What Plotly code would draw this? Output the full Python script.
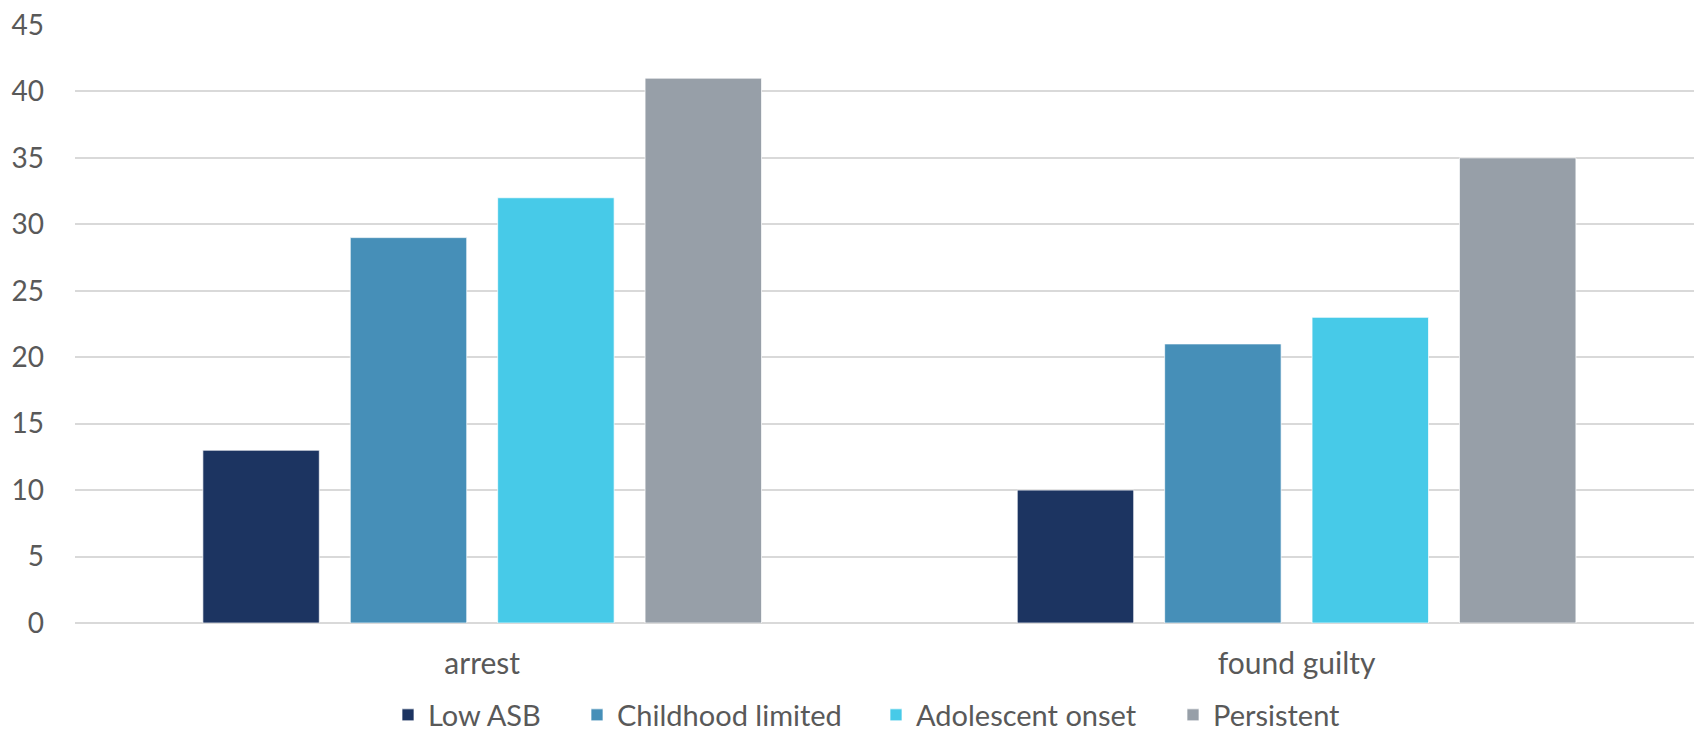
import plotly.graph_objects as go

categories = ["arrest", "found guilty"]
series_names = ["Low ASB", "Childhood limited", "Adolescent onset", "Persistent"]
low_asb = [13, 10]
childhood_limited = [29, 21]
adolescent_onset = [32, 23]
persistent = [41, 35]
colors = ["#1c3461", "#468fb8", "#47cae8", "#979fa8"]

values = [low_asb, childhood_limited, adolescent_onset, persistent]

# plot area in pixels
W, H = 1694, 736
ML, MR, MT, MB = 75, 0, 25, 113
plot_w = W - ML - MR
plot_h = H - MT - MB

# left edge (px) of each legend entry's swatch
legend_px = [403, 592, 891, 1188]
legend_ids = ["legend", "legend2", "legend3", "legend4"]

font_family = "Lato, 'Open Sans', sans-serif"
text_color = "#595959"

fig = go.Figure()
for name, vals, col, lid in zip(series_names, values, colors, legend_ids):
    fig.add_trace(go.Bar(
        x=categories, y=vals, name=name, legend=lid,
        marker=dict(color=col, line=dict(color="rgba(255,255,255,0.7)", width=1)),
    ))

# vertical centre of the legend row, in paper units below the plot area
legend_y = (MT + plot_h - 715) / plot_h
legends = {}
for lid, px in zip(legend_ids, legend_px):
    legends[lid] = dict(
        x=(px - 15 - ML) / plot_w, xanchor="left",
        y=legend_y, yanchor="middle",
        orientation="h", bgcolor="rgba(0,0,0,0)",
        font=dict(family=font_family, size=29, color=text_color),
    )

fig.update_layout(
    width=W, height=H,
    margin=dict(l=ML, r=MR, t=MT, b=MB, autoexpand=False),
    paper_bgcolor="white", plot_bgcolor="white",
    barmode="group", bargap=0.276, bargroupgap=0.21,
    font=dict(family=font_family, size=28, color=text_color),
    showlegend=True,
    xaxis=dict(range=[-0.5, 1.488], showgrid=False, showline=False, ticks="",
               ticklabelstandoff=20, tickfont=dict(size=30, color=text_color)),
    yaxis=dict(range=[0, 45], dtick=5, showgrid=True, gridcolor="#d9d9d9", gridwidth=1.5,
               zeroline=True, zerolinecolor="#d9d9d9", zerolinewidth=1.5,
               showline=False, ticks="", ticklabelstandoff=30,
               tickfont=dict(size=28, color=text_color)),
    **legends,
)

fig.write_html("out.html")
